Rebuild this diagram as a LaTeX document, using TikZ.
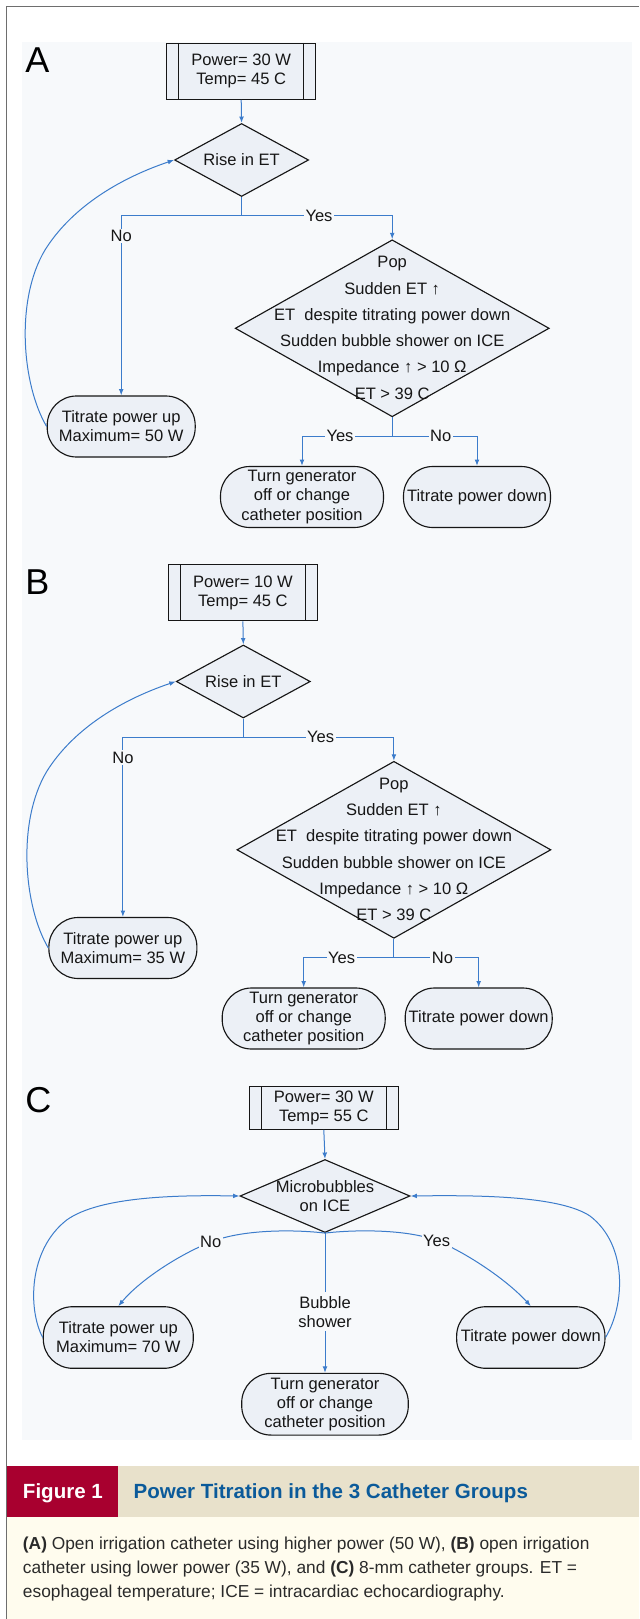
\documentclass[tikz,border=0pt]{standalone}
\usepackage{fontspec}
\setmainfont{Liberation Sans}
\usetikzlibrary{arrows.meta,shapes.geometric}
\definecolor{panel}{HTML}{F7F9FB}
\definecolor{nodefill}{HTML}{ECF0F6}
\definecolor{connc}{HTML}{3C7CCB}
\definecolor{framec}{HTML}{6E6E6E}
\definecolor{figred}{HTML}{A8002F}
\definecolor{band}{HTML}{E8E1CB}
\definecolor{titleblue}{HTML}{0B5A9A}
\definecolor{capbg}{HTML}{FFFCEE}
\definecolor{inkc}{HTML}{161616}
\definecolor{captext}{HTML}{2A2A2A}
\newcommand\pxu{0.75pt}

\newcommand\abpanel[5]{%
\begin{scope}[shift={(#2,#3)}]
\node[procbox, minimum width=149*\pxu, minimum height=56*\pxu] (p#1) at (241.2,71.4) {};
\draw[edgeink] ([xshift=9.4pt]p#1.north west) -- ([xshift=9.4pt]p#1.south west);
\draw[edgeink] ([xshift=-9.4pt]p#1.north east) -- ([xshift=-9.4pt]p#1.south east);
\node[txt] (pt#1) at (p#1.center) {Power= #4\\Temp= 45 C};
\node[dia, minimum width=134*\pxu, minimum height=73*\pxu] (da#1) at (241.6,160) {};
\node[dia, minimum width=314*\pxu, minimum height=177*\pxu] (db#1) at (392.2,328.3) {};
\node[term, txt, minimum width=148*\pxu, minimum height=61*\pxu] (up#1) at (121.2,426.5) {Titrate power up\\Maximum= #5};
\node[term, txt, minimum width=163*\pxu, minimum height=61*\pxu] (tg#1) at (302,497) {Turn generator\\off or change\\catheter position};
\node[term, txt, minimum width=147*\pxu, minimum height=61*\pxu] (dn#1) at (477,497) {Titrate power down};
\coordinate (j#1) at (241.6,215.5);
\coordinate (k#1) at (392.2,436);
\draw[arr] (p#1.south) -- (da#1.north);
\draw[conn] (da#1.south) -- (j#1);
\draw[arr] (j#1) -| (up#1.north);
\draw[arr] (j#1) -| (db#1.north);
\draw[conn] (db#1.south) -- (k#1);
\draw[arr] (k#1) -| (tg#1.north);
\draw[arr] (k#1) -| (dn#1.north);
\draw[arr] (up#1.west) .. controls (22,385) and (15,300) .. (45,250)
   .. controls (70,210) and (115,180) .. (da#1.west);
\node[txt] (dat#1) at (da#1.center) {Rise in ET};
\node[txt, font=\fontsize{12.4}{19.7}\selectfont] (dbt#1) at (392.2,327.8)
  {Pop\\Sudden ET ↑\\ET\ \ despite titrating power down\\Sudden bubble shower on ICE\\Impedance ↑ > 10 Ω\\ET > 39 C};
\node[lbl] (ya#1) at (319,215.5) {Yes};
\node[lbl] (na#1) at (121.2,236) {No};
\node[lbl] (yb#1) at (340,436) {Yes};
\node[lbl] (nb#1) at (440.7,436) {No};
\end{scope}}

\begin{document}
\begin{tikzpicture}[x=0.75pt,y=-0.75pt,
  edgeink/.style={draw=inkc, line width=0.85pt},
  shapeline/.style={draw=inkc, line width=0.85pt, fill=nodefill},
  procbox/.style={shapeline, rectangle, inner sep=0pt},
  term/.style={shapeline, rectangle, rounded corners=22pt, inner sep=0pt},
  dia/.style={shapeline, diamond, inner sep=0pt},
  txt/.style={text=inkc, font=\fontsize{12.4}{14.3}\selectfont, align=center, inner sep=0pt},
  conn/.style={draw=connc, line width=0.75pt},
  arr/.style={conn, -{Latex[length=4.8pt,width=3.6pt]}},
  lbl/.style={txt, fill=panel, inner sep=1.2pt},
  panelletter/.style={text=black, font=\fontsize{27}{30}\selectfont, anchor=base west, inner sep=0pt},
  capline/.style={text=captext, font=\fontsize{13}{15}\selectfont, anchor=base west, inner sep=0pt},
]
\useasboundingbox (0,0) rectangle (639,1619);
\fill[white] (0,0) rectangle (639,1619);
\fill[panel] (21.7,41.7) rectangle (631.7,1440);
\draw[framec, line width=1.1pt] (6.7,1619) -- (6.7,6.7) -- (639,6.7);

\node[panelletter] (LA) at (25,72.7) {A};
\node[panelletter] (LB) at (25,594.2) {B};
\node[panelletter] (LC) at (25,1112) {C};

\abpanel{A}{0}{0}{30 W}{50 W}
\abpanel{B}{1.7}{521.5}{10 W}{35 W}

% Panel C
\node[procbox, minimum width=149*\pxu, minimum height=42.6*\pxu] (pC) at (323.8,1108) {};
\draw[edgeink] ([xshift=9.4pt]pC.north west) -- ([xshift=9.4pt]pC.south west);
\draw[edgeink] ([xshift=-9.4pt]pC.north east) -- ([xshift=-9.4pt]pC.south east);
\node[txt] (ptC) at (pC.center) {Power= 30 W\\Temp= 55 C};
\node[dia, minimum width=170*\pxu, minimum height=73*\pxu] (dC) at (325,1196) {};
\node[term, txt, minimum width=150*\pxu, minimum height=61.6*\pxu] (upC) at (118.3,1337.5) {Titrate power up\\Maximum= 70 W};
\node[term, txt, minimum width=148.3*\pxu, minimum height=61.6*\pxu] (dnC) at (530.8,1337.5) {Titrate power down};
\node[term, txt, minimum width=166.6*\pxu, minimum height=61.7*\pxu] (tgC) at (325,1404.2) {Turn generator\\off or change\\catheter position};

\draw[arr] (pC.south) -- (dC.north);
\draw[arr] (dC.south) .. controls (290,1229) and (240,1230) .. (211,1242)
   .. controls (180,1254) and (140,1280) .. (upC.north);
\draw[arr] (dC.south) .. controls (360,1229) and (410,1230) .. (436.7,1240.7)
   .. controls (463,1251) and (505,1278) .. (dnC.north);
\draw[arr] (dC.south) -- (tgC.north);
\draw[arr] (upC.west) .. controls (28,1310) and (28,1250) .. (66.7,1220)
   .. controls (100,1196) and (180,1195) .. (dC.west);
\draw[arr] (dnC.east) .. controls (625,1305) and (628,1245) .. (590,1216)
   .. controls (560,1196) and (480,1195) .. (dC.east);
\node[txt] (dtC) at (325,1196.3) {Microbubbles\\on ICE};
\node[lbl] (noC) at (210.7,1241.7) {No};
\node[lbl] (yesC) at (436.7,1240.7) {Yes};
\node[lbl, inner sep=3pt] (bsC) at (325,1311.7) {Bubble\\shower};

% Caption
\fill[capbg] (7.3,1516.7) rectangle (639,1619);
\fill[band] (117.7,1466) rectangle (639,1516.7);
\fill[figred] (7.3,1466) rectangle (117.7,1516.7);
\node[anchor=base west, inner sep=0pt, text=white, font=\fontsize{15.4}{18}\selectfont\bfseries] (fig) at (22.7,1498.3) {Figure 1};
\node[anchor=base west, inner sep=0pt, text=titleblue, font=\fontsize{15.4}{18}\selectfont\bfseries] (title) at (133.3,1498.3) {Power Titration in the 3 Catheter Groups};
\node[capline] (cap1) at (22.7,1549) {\textbf{(A)} Open irrigation catheter using higher power (50 W), \textbf{(B)} open irrigation};
\node[capline] (cap2) at (22.7,1573.3) {catheter using lower power (35 W), and \textbf{(C)} 8-mm catheter groups. ET =};
\node[capline] (cap3) at (22.7,1597.7) {esophageal temperature; ICE = intracardiac echocardiography.};
\end{tikzpicture}
\end{document}
